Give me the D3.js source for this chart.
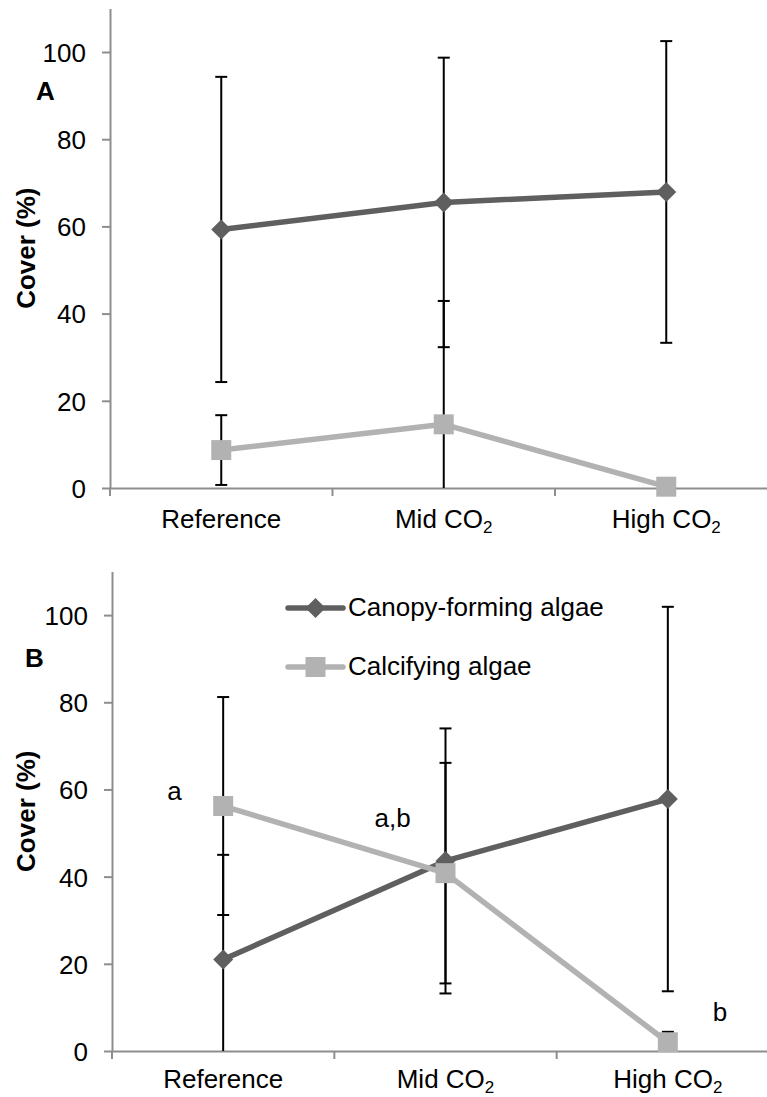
<!DOCTYPE html>
<html>
<head>
<meta charset="utf-8">
<script src="https://cdn.jsdelivr.net/npm/d3@7"></script>
<style>
  html, body { margin: 0; padding: 0; background: #fff; }
  svg { display: block; font-family: "Liberation Sans", Arial, sans-serif; }
</style>
</head>
<body>
<svg id="chart" width="767" height="1097"></svg>
<script>
// ---- data ----
const categories = ["Reference", "Mid CO2", "High CO2"];
const yTicks = [0, 20, 40, 60, 80, 100];
const seriesNames = ["Canopy-forming algae", "Calcifying algae"];

const panelA_canopy = [59.3, 65.5, 67.9];
const panelA_canopyErr = [35.0, 33.2, 34.6];
const panelA_calcifying = [8.7, 14.6, 0.3];
const panelA_calcifyingErr = [8.0, 28.3, 0.3];

const panelB_canopy = [21.0, 43.6, 57.8];
const panelB_canopyErr = [24.0, 30.4, 44.1];
const panelB_calcifying = [56.2, 40.8, 2.0];
const panelB_calcifyingErr = [25.0, 25.3, 2.4];

const panelB_letters = [
  { cat: "Reference", text: "a", dx: -56, value: 57.5 },
  { cat: "Mid CO2", text: "a,b", dx: -71, value: 51.5 },
  { cat: "High CO2", text: "b", dx: 45, value: 6.9 }
];

// ---- styles ----
const colCanopy = "#5f5f5f";
const colCalc = "#b2b2b2";
const colAxis = "#8e8e8e";
const fontSize = 26;

const svg = d3.select("#chart");

function drawPanel(cfg) {
  const y = d3.scaleLinear().domain([0, 110]).range([cfg.y0, cfg.y110]);
  const x = d3.scaleBand().domain(categories).range([cfg.xl, cfg.xr]).padding(0);
  const cx = c => x(c) + x.bandwidth() / 2;
  const g = svg.append("g");

  // y axis
  const yAxis = d3.axisLeft(y).tickValues(yTicks).tickSize(8).tickSizeOuter(0).tickPadding(16);
  const ya = g.append("g").attr("transform", `translate(${cfg.xl},0)`).call(yAxis);
  ya.select(".domain").attr("stroke", colAxis).attr("stroke-width", 2);
  ya.selectAll(".tick line").attr("stroke", colAxis).attr("stroke-width", 2);
  ya.selectAll(".tick text").attr("font-size", fontSize).attr("fill", "#000")
    .attr("font-family", "Liberation Sans, Arial, sans-serif").attr("dy", "0.36em");

  // x axis line
  const xAxis = d3.axisBottom(x).tickSize(0).tickSizeOuter(0).tickFormat("");
  const xa = g.append("g").attr("transform", `translate(0,${cfg.y0})`).call(xAxis);
  xa.select(".domain").attr("stroke", colAxis).attr("stroke-width", 2);
  // boundary ticks
  const bounds = categories.map(c => x(c)).concat([x.range()[1]]);
  g.selectAll(".bt").data(bounds).enter().append("line")
    .attr("x1", d => d).attr("x2", d => d)
    .attr("y1", cfg.y0).attr("y2", cfg.y0 + 8)
    .attr("stroke", colAxis).attr("stroke-width", 2);

  // x labels with subscript
  categories.forEach(c => {
    const t = g.append("text").attr("x", cx(c)).attr("y", cfg.labelY)
      .attr("text-anchor", "middle").attr("font-size", fontSize).attr("fill", "#000");
    if (c.endsWith("CO2")) {
      t.append("tspan").text(c.slice(0, -1));
      t.append("tspan").text("2").attr("font-size", 17).attr("dy", 5);
    } else {
      t.text(c);
    }
  });

  // y title
  g.append("text").attr("transform", `translate(35,${(cfg.y0 + cfg.y110) / 2}) rotate(-90)`)
    .attr("text-anchor", "middle").attr("font-size", fontSize).attr("font-weight", "bold")
    .attr("fill", "#000").text("Cover (%)");

  // panel letter
  g.append("text").attr("x", cfg.letterX).attr("y", cfg.letterY)
    .attr("font-size", fontSize).attr("font-weight", "bold").attr("fill", "#000").text(cfg.letter);

  const series = [
    { vals: cfg.canopy, err: cfg.canopyErr, color: colCanopy, type: "diamond" },
    { vals: cfg.calc, err: cfg.calcErr, color: colCalc, type: "square" }
  ];
  const line = d3.line().x((d, i) => cx(categories[i])).y(d => y(d));

  // lines
  series.forEach(s => {
    g.append("path").datum(s.vals).attr("d", line).attr("fill", "none")
      .attr("stroke", s.color).attr("stroke-width", 5.5).attr("stroke-linejoin", "round");
  });
  // error bars
  series.forEach(s => {
    s.vals.forEach((v, i) => {
      const px = cx(categories[i]);
      const hi = v + s.err[i];
      const loRaw = v - s.err[i];
      const lo = Math.max(0, loRaw);
      g.append("line").attr("x1", px).attr("x2", px).attr("y1", y(hi)).attr("y2", y(lo))
        .attr("stroke", "#000").attr("stroke-width", 2);
      g.append("line").attr("x1", px - 6).attr("x2", px + 6).attr("y1", y(hi)).attr("y2", y(hi))
        .attr("stroke", "#000").attr("stroke-width", 2);
      if (loRaw >= 0) {
        g.append("line").attr("x1", px - 6).attr("x2", px + 6).attr("y1", y(lo)).attr("y2", y(lo))
          .attr("stroke", "#000").attr("stroke-width", 2);
      }
    });
  });
  // markers
  series.forEach(s => {
    s.vals.forEach((v, i) => {
      const px = cx(categories[i]);
      if (s.type === "diamond") {
        g.append("path").attr("d", d3.symbol(d3.symbolSquare, 200)())
          .attr("transform", `translate(${px},${y(v)}) rotate(45)`).attr("fill", s.color);
      } else {
        g.append("path").attr("d", d3.symbol(d3.symbolSquare, 400)())
          .attr("transform", `translate(${px},${y(v)})`).attr("fill", s.color);
      }
    });
  });

  return { x, y, cx, g };
}

drawPanel({
  y0: 488, y110: 8.4, xl: 110, xr: 777.5, labelY: 528,
  letter: "A", letterX: 36, letterY: 100,
  canopy: panelA_canopy, canopyErr: panelA_canopyErr,
  calc: panelA_calcifying, calcErr: panelA_calcifyingErr
});

const pB = drawPanel({
  y0: 1051, y110: 571.5, xl: 112, xr: 779, labelY: 1088,
  letter: "B", letterX: 25, letterY: 667,
  canopy: panelB_canopy, canopyErr: panelB_canopyErr,
  calc: panelB_calcifying, calcErr: panelB_calcifyingErr
});

// significance letters
panelB_letters.forEach(l => {
  pB.g.append("text").attr("x", pB.cx(l.cat) + l.dx).attr("y", pB.y(l.value))
    .attr("font-size", fontSize).attr("fill", "#000").text(l.text);
});

// legend
const legend = svg.append("g");
const legendItems = [
  { name: seriesNames[0], color: colCanopy, type: "diamond", y: 608 },
  { name: seriesNames[1], color: colCalc, type: "square", y: 667 }
];
legendItems.forEach(it => {
  legend.append("line").attr("x1", 288).attr("x2", 343).attr("y1", it.y).attr("y2", it.y)
    .attr("stroke", it.color).attr("stroke-width", 5.5).attr("stroke-linecap", "round");
  if (it.type === "diamond") {
    legend.append("path").attr("d", d3.symbol(d3.symbolSquare, 200)())
      .attr("transform", `translate(315.5,${it.y}) rotate(45)`).attr("fill", it.color);
  } else {
    legend.append("path").attr("d", d3.symbol(d3.symbolSquare, 400)())
      .attr("transform", `translate(315.5,${it.y})`).attr("fill", it.color);
  }
  legend.append("text").attr("x", 348).attr("y", it.y + 8).attr("font-size", fontSize)
    .attr("fill", "#000").text(it.name);
});
</script>
</body>
</html>
